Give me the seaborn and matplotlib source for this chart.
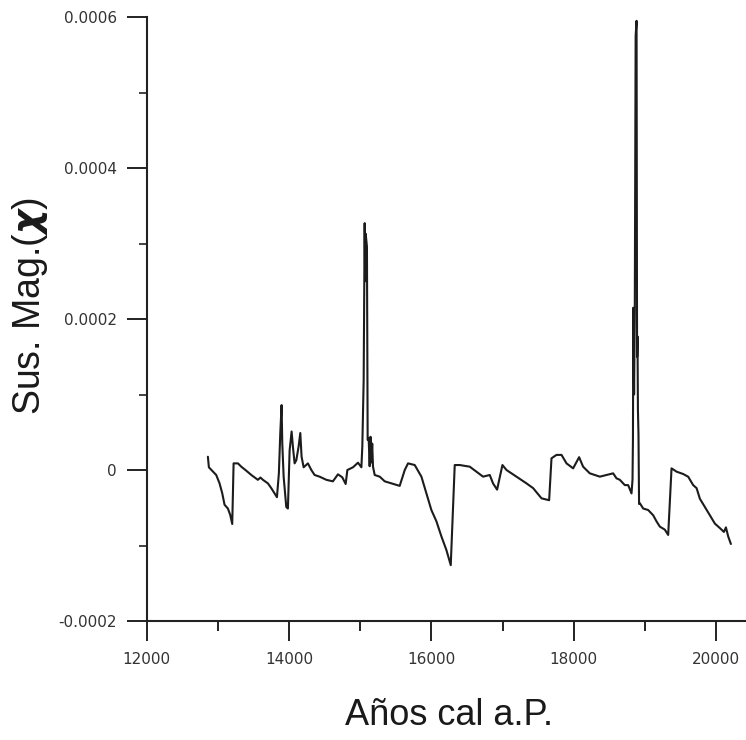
import matplotlib
matplotlib.use("Agg")
import matplotlib.pyplot as plt
import seaborn as sns
import pandas as pd
from matplotlib.ticker import MultipleLocator

# ---- data ----
years = [
    12862, 12876, 12979, 13026, 13064, 13096, 13143, 13176, 13204, 13223,
    13284, 13331, 13401, 13472, 13564, 13600, 13635, 13705, 13752, 13832,
    13859, 13879, 13897, 13907, 13926, 13963, 13986, 14010, 14038, 14056,
    14080, 14104, 14136, 14160, 14178, 14207, 14267, 14315, 14361, 14431,
    14526, 14618, 14689, 14750, 14797, 14821, 14900, 14970, 15018, 15031,
    15050, 15064, 15071, 15078, 15096, 15106, 15120, 15134, 15146, 15158,
    15170, 15181, 15205, 15275, 15346, 15439, 15556, 15627, 15673, 15767,
    15861, 15931, 16001, 16072, 16142, 16212, 16273, 16329, 16399, 16540,
    16634, 16727, 16821, 16867, 16924, 16999, 17056, 17196, 17337, 17430,
    17548, 17655, 17688, 17758, 17829, 17899, 17992, 18076, 18132, 18226,
    18367, 18461, 18554, 18601, 18648, 18718, 18765, 18812, 18826, 18832,
    18838, 18848, 18858, 18870, 18883, 18890, 18896, 18902, 18910, 18918,
    18929, 18976, 19046, 19117, 19163, 19210, 19280, 19327, 19351, 19374,
    19445, 19538, 19608, 19678, 19726, 19772, 19843, 19913, 19983, 20054,
    20110, 20138, 20170, 20208,
]
sus_mag = [
    1.76e-5, 3.6e-6, -6.6e-6, -1.77e-5, -3.1e-5, -4.6e-5, -5.1e-5, -5.96e-5, -7.15e-5, 8.8e-6,
    8.8e-6, 4.4e-6, -0.9e-6, -6.6e-6, -1.3e-5, -1.0e-5, -1.3e-5, -1.77e-5, -2.4e-5, -3.6e-5,
    -4.4e-6, 4.9e-5, 8.6e-5, 3.5e-5, -8.8e-6, -4.9e-5, -5.1e-5, 2.6e-5, 5.1e-5, 3.1e-5,
    8.8e-6, 1.3e-5, 3.1e-5, 4.9e-5, 1.76e-5, 3.6e-6, 8.8e-6, 0.0, -6.6e-6, -8.8e-6,
    -1.3e-5, -1.5e-5, -5.7e-6, -9.7e-6, -1.85e-5, 0.0, 3.6e-6, 9.7e-6, 3.6e-6, 3.1e-5,
    1.19e-4, 3.27e-4, 2.5e-4, 3.13e-4, 2.96e-4, 4.0e-5, 4.2e-5, 5.0e-6, 4.4e-5, 1.0e-5,
    3.5e-5, 4.4e-6, -6.6e-6, -8.8e-6, -1.5e-5, -1.77e-5, -2.1e-5, 0.0, 8.8e-6, 6.6e-6,
    -8.8e-6, -3.1e-5, -5.3e-5, -6.8e-5, -8.8e-5, -1.06e-4, -1.26e-4, 6.6e-6, 6.6e-6, 4.4e-6,
    -2.2e-6, -8.8e-6, -6.6e-6, -1.77e-5, -2.6e-5, 6.6e-6, 0.0, -8.8e-6, -1.77e-5, -2.4e-5,
    -3.75e-5, -4.0e-5, 1.55e-5, 2.0e-5, 2.0e-5, 8.8e-6, 2.2e-6, 1.7e-5, 4.4e-6, -4.4e-6,
    -8.8e-6, -6.6e-6, -4.4e-6, -1.1e-5, -1.3e-5, -2.0e-5, -2.0e-5, -3.1e-5, -1.3e-5, 4.0e-5,
    2.15e-4, 1.0e-4, 2.1e-4, 5.75e-4, 5.95e-4, 1.5e-4, 1.77e-4, 8.0e-5, 4.7e-5, -4.5e-5,
    -4.4e-5, -5.1e-5, -5.3e-5, -6.0e-5, -6.8e-5, -7.5e-5, -7.9e-5, -8.6e-5, -4.0e-5, 2.2e-6,
    -2.2e-6, -5.3e-6, -8.9e-6, -2.0e-5, -2.4e-5, -3.8e-5, -4.9e-5, -6.0e-5, -7.1e-5, -7.7e-5,
    -8.2e-5, -7.6e-5, -8.8e-5, -9.8e-5,
]
xticks = [12000, 14000, 16000, 18000, 20000]
xtick_labels = ["12000", "14000", "16000", "18000", "20000"]
yticks = [-0.0002, 0.0, 0.0002, 0.0004, 0.0006]
ytick_labels = ["-0.0002", "0", "0.0002", "0.0004", "0.0006"]
xlabel = "Años cal a.P."
ylabel = r"Sus. Mag.($\boldsymbol{\chi}$)"

df = pd.DataFrame({"year": years, "sus": sus_mag})

sns.set_style("ticks")
plt.rcParams["font.family"] = ["Liberation Sans", "DejaVu Sans"]

fig = plt.figure(figsize=(7.46, 7.40), dpi=100)
ax = fig.add_axes([0.1964, 0.1608, 0.8036, 0.8162])

sns.lineplot(data=df, x="year", y="sus", ax=ax, estimator=None, sort=False,
             color="#1c1c1c", linewidth=1.5)

ax.set_xlim(12000, 20420)
ax.set_ylim(-0.0002, 0.0006)

ax.set_xticks(xticks)
ax.set_xticklabels(xtick_labels, fontfamily="DejaVu Sans", fontsize=11, color="#333333")
ax.set_yticks(yticks)
ax.set_yticklabels(ytick_labels, fontfamily="DejaVu Sans", fontsize=11, color="#333333")
ax.xaxis.set_minor_locator(MultipleLocator(1000))
ax.yaxis.set_minor_locator(MultipleLocator(0.0001))

ax.tick_params(axis="both", which="major", direction="out", length=14.5, width=1.4,
               color="#222222")
ax.tick_params(axis="x", which="major", pad=8)
ax.tick_params(axis="y", which="major", pad=7)
ax.tick_params(axis="x", which="minor", direction="out", length=7.5, width=1.4, color="#222222")
ax.tick_params(axis="y", which="minor", direction="out", length=6, width=1.2, color="#222222")

for side in ("top", "right"):
    ax.spines[side].set_visible(False)
for side in ("left", "bottom"):
    ax.spines[side].set_linewidth(1.5)
    ax.spines[side].set_color("#222222")

ax.set_xlabel(xlabel, fontsize=26, color="#1a1a1a")
ax.set_ylabel(ylabel, fontsize=27, color="#1a1a1a")
ax.xaxis.set_label_coords(0.505, -0.128)
ax.yaxis.set_label_coords(-0.161, 0.5215)

fig.savefig("out.png", dpi=100, facecolor="white")
